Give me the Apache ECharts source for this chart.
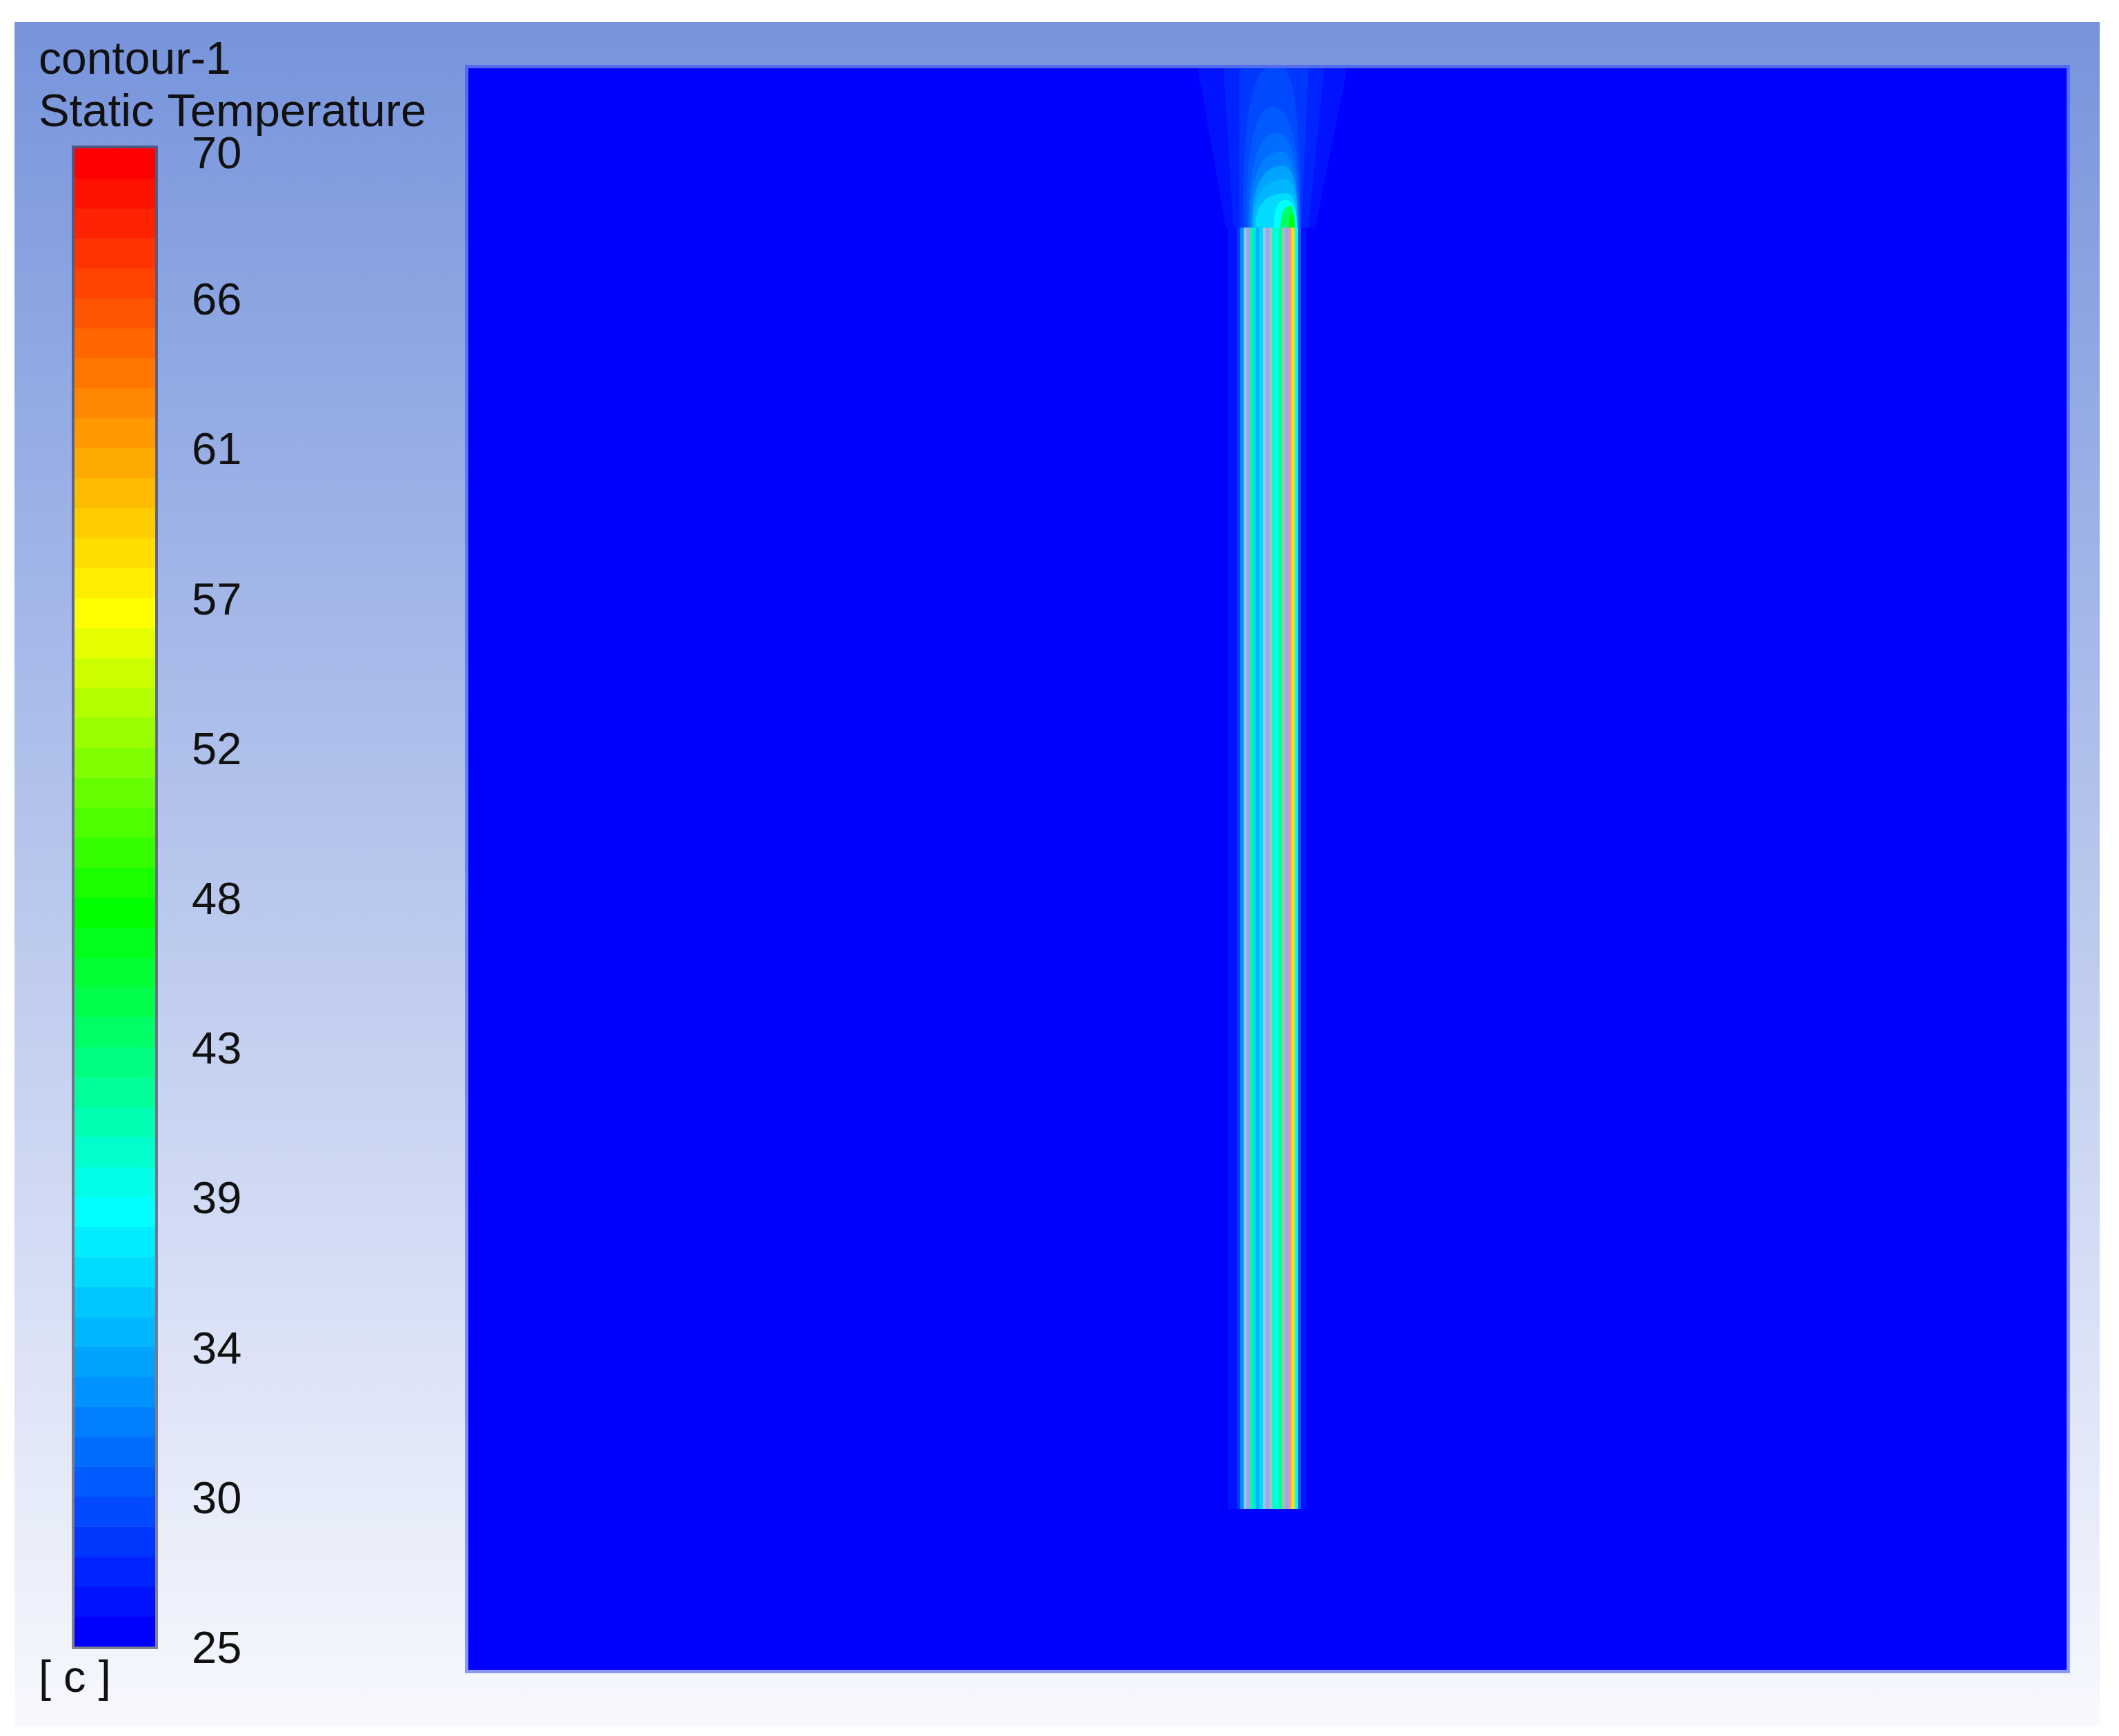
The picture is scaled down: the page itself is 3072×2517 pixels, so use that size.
<!DOCTYPE html>
<html>
<head>
<meta charset="utf-8">
<title>contour-1 Static Temperature</title>
<script src="https://cdn.jsdelivr.net/npm/echarts@6/dist/echarts.min.js"></script>
<style>
html, body { margin: 0; padding: 0; background: #fff; }
#main { width: 3072px; height: 2517px; }
</style>
</head>
<body>
<div id="main"></div>
<script>
// colour scale [c]
const tMin = 25;
const tMax = 70;
const levelCount = 50;
const tickLabels = ['25', '30', '34', '39', '43', '48', '52', '57', '61', '66', '70'];

// domain in mm, ambient temperature
const domainX = [0, 500];
const domainY = [0, 500];
const ambientT = 25;

// vertical tube strips (x edges in mm, temperature of each column)
const stripEdges = [237.6, 240.5, 241.5, 242.5, 243.5, 244.5, 245.5, 246.5, 247.5, 248.5, 249.5,
    250.5, 251.5, 252.5, 253.5, 254.5, 255.5, 256.5, 257.5, 258.5, 259.5, 260.5, 262.3];
const stripT = [26.3, 28.3, 33, 38, 33, 41.5, 36, 34.5, 36, 40, 33,
    43, 39.6, 38.9, 42.5, 46, 33, 64, 57.7, 37.9, 29.8, 26.5];
const stripY = [50.2, 450.3];
const wallX = [242.5, 243.5, 248.5, 249.5, 250.5, 254.5, 255.5, 256.5];

// warm plume above the tubes, one entry per isotherm band
const plumeT     = [26.3, 27.2, 28.1, 29.0, 29.9, 30.8, 31.7, 33.5, 34.4, 36.2, 38.0, 43.4, 46.9];
const plumeBaseL = [237.0, 239.4, 241.2, 242.3, 243.3, 244.1, 244.4, 245.1, 245.5, 246.2, 252.0, 254.1, 256.7];
const plumeBaseR = [265.0, 262.8, 260.6, 260.3, 260.3, 259.9, 259.5, 259.5, 259.5, 259.2, 259.2, 258.5, 258.5];
const plumeTopY  = [500, 500, 500, 500, 488, 479.8, 474, 469.6, 465.3, 461, 458.9, 457, 454.5];
const plumeTopL  = [228.2, 236.2, 241.2, 250.5, 251.6, 253.1, 254.5, 255.0, 255.6, 256.0, 255.6, 257.3, 257.5];
const plumeTopR  = [275.0, 267.8, 262.8, 254.5, 251.6, 253.1, 254.5, 255.0, 255.6, 256.0, 255.6, 257.3, 257.5];
const plumeBaseY = 450.3;

// rainbow stops by band index
const colorStops = [[0, [0, 0, 255]], [14, [0, 255, 255]], [24, [0, 255, 0]], [34, [255, 255, 0]], [49, [255, 0, 0]]];

function bandColor(k) {
    for (let i = 0; i < colorStops.length - 1; i++) {
        const a = colorStops[i], b = colorStops[i + 1];
        if (k <= b[0]) {
            const f = (k - a[0]) / (b[0] - a[0]);
            const c = a[1].map((v, j) => Math.round(v + (b[1][j] - v) * f));
            return 'rgb(' + c.join(',') + ')';
        }
    }
    return 'rgb(255,0,0)';
}

const step = (tMax - tMin) / levelCount;
let pieces = [];
let barData = [];
for (let k = 0; k < levelCount; k++) {
    const lo = tMin + step * k, hi = tMin + step * (k + 1);
    pieces.push(k === levelCount - 1 ? { gte: lo, lte: hi + 1, color: bandColor(k) } : { gte: lo, lt: hi, color: bandColor(k) });
    barData.push([lo + step / 2, lo, hi]);
}

let domainData = [[ambientT, domainX[0], domainX[1], domainY[0], domainY[1]]];
let stripData = stripT.map((t, i) => [t, stripEdges[i], stripEdges[i + 1], stripY[0], stripY[1]]);
let wallData = wallX.map(x => [x, x + 1, stripY[0], stripY[1]]);
let plumeData = plumeT.map((t, i) => [t, plumeBaseL[i], plumeBaseR[i], plumeTopY[i], plumeTopL[i], plumeTopR[i]]);

function renderRect(params, api) {
    const p0 = api.coord([api.value(1), api.value(4)]);
    const p1 = api.coord([api.value(2), api.value(3)]);
    const x0 = Math.round(p0[0]), x1 = Math.round(p1[0]);
    const y0 = Math.round(p0[1]), y1 = Math.round(p1[1]);
    return {
        type: 'rect',
        shape: { x: x0, y: y0, width: x1 - x0, height: y1 - y0 },
        style: { fill: api.visual('color') }
    };
}

function renderWall(params, api) {
    const p0 = api.coord([api.value(0), api.value(3)]);
    const p1 = api.coord([api.value(1), api.value(2)]);
    const x0 = Math.round(p0[0]), x1 = Math.round(p1[0]);
    return {
        type: 'rect',
        shape: { x: x0, y: p0[1], width: x1 - x0, height: p1[1] - p0[1] },
        style: { fill: 'rgba(220,172,235,0.7)' }
    };
}

function renderPlume(params, api) {
    const bL = api.value(1), bR = api.value(2), yt = api.value(3), tL = api.value(4), tR = api.value(5);
    const yb = plumeBaseY;
    let pts = [];
    if (tR - tL >= bR - bL) {
        pts = [[bL, yb], [tL, yt], [tR, yt], [bR, yb]];
    } else {
        const n = 20;
        for (let i = 0; i <= n; i++) {
            const t = i / n;
            pts.push([(1 - t) * (1 - t) * bL + 2 * t * (1 - t) * bL + t * t * tL,
                      (1 - t) * (1 - t) * yb + 2 * t * (1 - t) * yt + t * t * yt]);
        }
        for (let i = n; i >= 0; i--) {
            const t = i / n;
            pts.push([(1 - t) * (1 - t) * bR + 2 * t * (1 - t) * bR + t * t * tR,
                      (1 - t) * (1 - t) * yb + 2 * t * (1 - t) * yt + t * t * yt]);
        }
    }
    return {
        type: 'polygon',
        shape: { points: pts.map(p => api.coord(p)) },
        style: { fill: api.visual('color') }
    };
}

function renderBand(params, api) {
    const p0 = api.coord([0, api.value(2)]);
    const p1 = api.coord([1, api.value(1)]);
    return {
        type: 'rect',
        shape: { x: p0[0], y: p0[1], width: p1[0] - p0[0], height: p1[1] - p0[1] + 0.5 },
        style: { fill: api.visual('color') }
    };
}

const font = '"Liberation Sans", Arial, sans-serif';
const labelStep = (tMax - tMin) / (tickLabels.length - 1);

const option = {
    animation: false,
    graphic: [
        {
            type: 'rect', z: -10, silent: true,
            shape: { x: 21, y: 32, width: 3023, height: 2470 },
            style: {
                fill: new echarts.graphic.LinearGradient(0, 0, 0, 1, [
                    { offset: 0, color: '#7794dc' },
                    { offset: 1, color: '#f8f9fe' }
                ])
            }
        },
        { type: 'text', left: 56, top: 56, z: 100, style: { text: 'contour-1', font: '66px ' + font, fill: '#111' } },
        { type: 'text', left: 56, top: 131, z: 100, style: { text: 'Static Temperature', font: '67px ' + font, fill: '#111' } },
        { type: 'text', left: 56, top: 2403, z: 100, style: { text: '[ c ]', font: '65px ' + font, fill: '#111' } }
    ],
    visualMap: {
        show: false,
        type: 'piecewise',
        dimension: 0,
        seriesIndex: [0, 1, 2, 4],
        pieces: pieces
    },
    grid: [
        { left: 679, top: 99, width: 2317, height: 2322, show: true, borderColor: 'rgba(50,75,255,0.55)', borderWidth: 10, backgroundColor: 'transparent' },
        { left: 108, top: 215, width: 117, height: 2172, show: true, borderColor: 'rgba(40,35,55,0.55)', borderWidth: 8, backgroundColor: 'transparent' }
    ],
    xAxis: [
        { gridIndex: 0, type: 'value', min: domainX[0], max: domainX[1], show: false },
        { gridIndex: 1, type: 'value', min: 0, max: 1, show: false }
    ],
    yAxis: [
        { gridIndex: 0, type: 'value', min: domainY[0], max: domainY[1], show: false },
        {
            gridIndex: 1, type: 'value', min: tMin, max: tMax, interval: labelStep,
            position: 'right',
            axisLine: { show: false }, axisTick: { show: false }, splitLine: { show: false },
            axisLabel: {
                margin: 53, fontSize: 65, fontFamily: font, color: '#111',
                formatter: v => {
                    const i = Math.round((v - tMin) / labelStep);
                    return (i === tickLabels.length - 1 ? '{top|' : '{n|') + tickLabels[i] + '}';
                },
                rich: {
                    n: { fontSize: 65, fontFamily: font, color: '#111', padding: [12, 0, 0, 0] },
                    top: { fontSize: 65, fontFamily: font, color: '#111', padding: [22, 0, 0, 0] }
                }
            }
        }
    ],
    series: [
        { name: 'domain', type: 'custom', xAxisIndex: 0, yAxisIndex: 0, renderItem: renderRect, data: domainData, encode: { x: [1, 2], y: [3, 4] }, clip: true, silent: true },
        { name: 'plume', type: 'custom', xAxisIndex: 0, yAxisIndex: 0, renderItem: renderPlume, data: plumeData, encode: { x: [1, 2], y: [3] }, clip: true, silent: true },
        { name: 'tubes', type: 'custom', xAxisIndex: 0, yAxisIndex: 0, renderItem: renderRect, data: stripData, encode: { x: [1, 2], y: [3, 4] }, clip: true, silent: true },
        { name: 'walls', type: 'custom', xAxisIndex: 0, yAxisIndex: 0, renderItem: renderWall, data: wallData, encode: { x: [0, 1], y: [2, 3] }, clip: true, silent: true },
        { name: 'colorbar', type: 'custom', xAxisIndex: 1, yAxisIndex: 1, renderItem: renderBand, data: barData, encode: { y: [1, 2] }, silent: true }
    ]
};

let plot = echarts.init(document.querySelector('#main'));
plot.setOption(option);
</script>
</body>
</html>
